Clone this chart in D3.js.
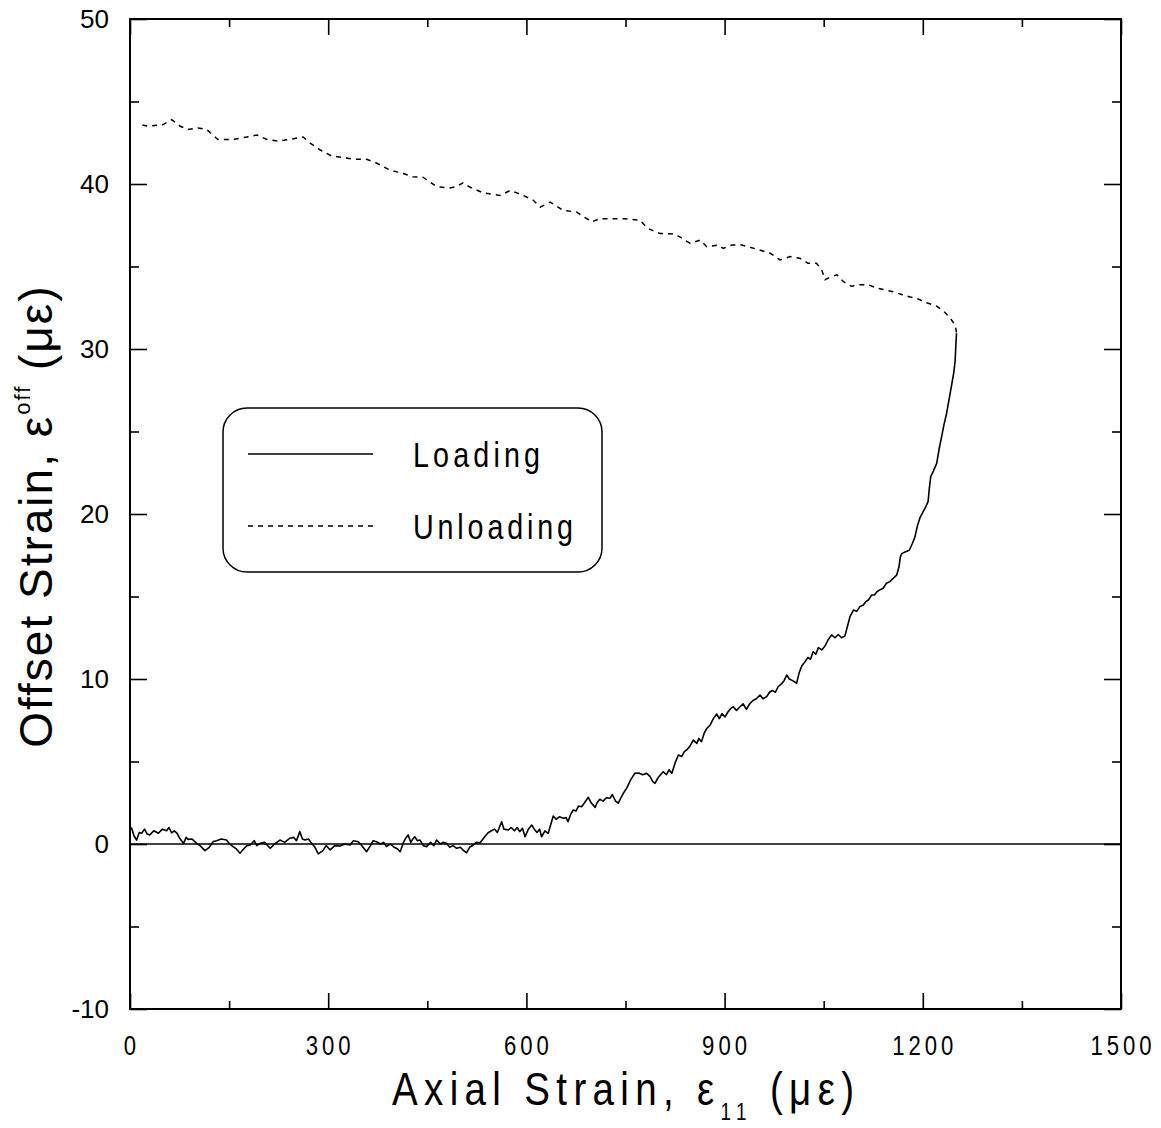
<!DOCTYPE html>
<html>
<head>
<meta charset="utf-8">
<script src="https://cdn.jsdelivr.net/npm/d3@7"></script>
<style>
  body { margin: 0; background: #fff; }
  svg text { font-family: "Liberation Sans", Arial, sans-serif; fill: #000; }
</style>
</head>
<body>
<div id="chart"></div>
<script>
// axis ticks
const xTicks = [0, 300, 600, 900, 1200, 1500];
const xMinorTicks = [150, 450, 750, 1050, 1350];
const yTicks = [-10, 0, 10, 20, 30, 40, 50];
const yMinorTicks = [-5, 5, 15, 25, 35, 45];

// loading branch [axial strain, offset strain]
const loadingPts = [
  [0,1.0],[2.5,0.95],[6,0.5],[10,0.24],[14,0.7],[17.7,0.65],[22,0.9],[26,0.6],[30,0.55],[36,0.8],
  [43,0.65],[49,0.9],[55.5,0.8],[59,1.0],[63,0.68],[67,0.8],[71,0.66],[76,0.3],[81,0.04],[85,0.4],
  [88,0.28],[94,0.3],[101,0.04],[106,-0.1],[113.5,-0.4],[120,-0.2],[126,0.15],[131,0.2],[138,0.3],[146,0.24],
  [151,0.0],[156,-0.16],[161,-0.3],[166.5,-0.56],[172,-0.3],[177,-0.1],[182,-0.06],[188,0.2],[192,-0.1],[197,0.04],
  [204,0.1],[212,-0.26],[219,0.0],[227,0.24],[234,0.1],[242,0.35],[248,0.4],[252,0.2],[257,0.75],[261,0.3],
  [265,0.24],[270,0.3],[275,0.04],[280,-0.2],[285,-0.6],[292,-0.4],[297,-0.1],[303,-0.36],[310,-0.1],[318,-0.12],
  [325,0.0],[333,-0.06],[338,0.2],[345.5,0.14],[351,-0.1],[358,-0.47],[364,-0.1],[368,0.2],[373,0.14],[379,0.0],
  [384,0.1],[388,-0.16],[394,0.0],[400,-0.2],[405,-0.3],[409,-0.47],[414,0.1],[418,0.4],[421,0.55],[425,0.1],
  [428,0.3],[431,0.44],[435,0.2],[439,0.24],[444,-0.1],[449,-0.16],[455,0.1],[460,-0.1],[464,0.24],[470,0.0],
  [474,0.1],[479,0.04],[484,-0.2],[489,-0.1],[494.5,-0.26],[500,-0.2],[505,-0.4],[509.6,-0.53],[514,-0.2],[519.6,-0.06],
  [524,0.1],[530,0.08],[536,0.4],[542,0.68],[547,0.8],[552,0.9],[556,0.7],[562.6,1.35],[566,0.9],[572.6,0.85],
  [577,1.0],[582,0.8],[586,1.0],[590,0.75],[594,0.95],[598,0.44],[603,0.9],[608,1.15],[612,0.9],[616,0.7],
  [620,0.9],[623,0.44],[628,0.8],[633,0.65],[637,1.2],[640.6,1.7],[645,1.5],[650,1.65],[656,1.56],[660,1.6],
  [663,1.35],[667,1.8],[671,2.06],[675,2.0],[679,2.3],[683.6,2.26],[688,2.5],[693.6,2.83],[698,2.5],[704,2.22],
  [707,2.5],[711,2.71],[716,2.6],[721,2.8],[726.5,2.77],[730,3.0],[735,2.6],[739,2.47],[743,2.8],[746.7,3.07],
  [752,3.4],[758,3.9],[764,4.28],[770,4.3],[776,4.2],[782,4.28],[787,4.1],[791,3.8],[794.6,3.68],[799,4.0],
  [803,4.2],[807,4.38],[812,4.2],[816,4.5],[820,4.28],[825,4.9],[830,5.39],[835,5.3],[839,5.6],[842.6,5.7],
  [847,5.9],[852.6,6.3],[858,6.1],[861,6.4],[865,6.2],[869,6.7],[873,7.0],[878,7.2],[883,7.6],[888,7.88],
  [892,7.6],[896,7.9],[900.6,7.7],[905,8.0],[909,8.2],[913,8.32],[918,8.1],[923,8.3],[928,8.5],[933,8.16],
  [938,8.5],[943,8.7],[948,8.8],[953.6,9.03],[958,8.8],[963.7,8.93],[968,9.2],[972,9.3],[977,9.2],[981,9.53],
  [986,9.7],[990,9.9],[994,10.24],[998,10.0],[1003,9.9],[1009,9.74],[1013,10.4],[1017,10.8],[1021.7,11.05],[1026,11.3],
  [1030,11.2],[1034,11.65],[1038,11.5],[1042,11.9],[1047,11.76],[1052,12.0],[1057,12.4],[1062,12.67],[1067,12.5],[1072,12.7],
  [1077,12.5],[1082,12.6],[1086,13.2],[1090,13.8],[1095,14.18],[1100,14.1],[1105,14.4],[1110,14.48],[1114,14.7],[1118,14.8],
  [1122.6,15.09],[1127,15.1],[1131,15.3],[1135,15.4],[1140,15.5],[1145,15.8],[1150,15.9],[1155,16.1],[1160.5,16.3],[1164,16.8],
  [1166,17.4],[1168,17.6],[1173,17.7],[1179.6,17.8],[1184,18.2],[1188,18.6],[1192,19.3],[1196,19.8],[1200,20.1],[1204,20.4],
  [1208,20.75],[1210,21.6],[1212,22.26],[1216,22.6],[1221,23.07],[1225,24.0],[1228.6,24.7],[1232,25.4],[1236,26.1],[1240,27.0],
  [1244,27.9],[1247,28.6],[1249,29.3],[1250,30.2],[1251,30.95]
];

// unloading branch
const unloadingPts = [
  [1251,31.0],[1249,31.45],[1241,31.9],[1234,32.2],[1221,32.6],[1206,32.8],[1193,33.03],[1181,33.15],[1168,33.3],[1155,33.47],
  [1130,33.7],[1117,33.9],[1105,33.9],[1092,33.8],[1080,34.08],[1070,34.5],[1062,34.4],[1052,34.2],[1047,34.8],[1039,35.2],
  [1026,35.2],[1014,35.5],[999,35.6],[984,35.4],[969,35.8],[948,36.06],[926,36.3],[911,36.3],[898,36.1],[890,36.3],
  [873,36.2],[863,36.6],[848,36.4],[825,36.97],[802,37.0],[784,37.3],[772,37.8],[749,37.9],[727,37.9],[711,37.9],
  [699,37.7],[676,38.3],[656,38.4],[636,38.9],[621,38.6],[610,39.03],[590,39.4],[575,39.6],[560,39.3],[534,39.47],
  [515,39.8],[504,40.07],[494,39.84],[484,39.76],[464,39.84],[444,40.4],[428,40.44],[411,40.67],[393,40.85],[373,41.27],
  [358,41.5],[341,41.5],[323,41.6],[305,41.7],[288,42.06],[272,42.5],[262,42.85],[242,42.7],[224,42.6],[207,42.7],
  [192,42.97],[177,42.85],[156,42.7],[133,42.7],[116,43.3],[103,43.4],[88,43.3],[76,43.5],[63,43.9],[50,43.6],
  [27,43.5],[12,43.64]
];

const legendItems = ["Loading", "Unloading"];

const width = 1161, height = 1128;
const margin = {top: 19, right: 40, bottom: 119, left: 130};
const plotW = width - margin.left - margin.right;   // 991
const plotH = height - margin.top - margin.bottom;  // 990
const squeeze = 0.82; // condensed look of the original lettering

const svg = d3.select("#chart").append("svg")
    .attr("width", width)
    .attr("height", height);

const g = svg.append("g").attr("transform", `translate(${margin.left},${margin.top})`);

const x = d3.scaleLinear().domain([0, 1500]).range([0, plotW]);
const y = d3.scaleLinear().domain([-10, 50]).range([plotH, 0]);

// ticks pointing inward on all four sides
function tickAxis(axisFn, scale, vals, size, tr) {
    const a = g.append("g").attr("transform", tr)
        .call(axisFn(scale).tickValues(vals).tickSize(size).tickFormat(""));
    a.select(".domain").remove();
    a.selectAll("line").attr("stroke", "#000").attr("stroke-width", 1.6);
    return a;
}
tickAxis(d3.axisTop, x, xTicks, 16, `translate(0,${plotH})`);
tickAxis(d3.axisTop, x, xMinorTicks, 8, `translate(0,${plotH})`);
tickAxis(d3.axisBottom, x, xTicks, 16, "translate(0,0)");
tickAxis(d3.axisBottom, x, xMinorTicks, 8, "translate(0,0)");
tickAxis(d3.axisRight, y, yTicks, 17, "translate(0,0)");
tickAxis(d3.axisRight, y, yMinorTicks, 9, "translate(0,0)");
tickAxis(d3.axisLeft, y, yTicks, 17, `translate(${plotW},0)`);
tickAxis(d3.axisLeft, y, yMinorTicks, 9, `translate(${plotW},0)`);

// frame
g.append("rect")
    .attr("width", plotW).attr("height", plotH)
    .attr("fill", "none").attr("stroke", "#000").attr("stroke-width", 2);

// tick labels
g.selectAll(".xlab").data(xTicks).enter().append("text")
    .attr("transform", d => `translate(${x(d)},${plotH + 46}) scale(${squeeze},1)`)
    .attr("text-anchor", "middle")
    .attr("font-size", 27)
    .attr("textLength", d => (String(d).length * 16 - 3) / squeeze)
    .attr("lengthAdjust", "spacing")
    .text(d => d);

g.selectAll(".ylab").data(yTicks).enter().append("text")
    .attr("x", -21)
    .attr("y", d => y(d) + 9)
    .attr("text-anchor", "end")
    .attr("font-size", 26)
    .text(d => d);

// zero line
g.append("line")
    .attr("x1", x(0)).attr("x2", x(1500))
    .attr("y1", y(0)).attr("y2", y(0))
    .attr("stroke", "#000").attr("stroke-width", 1.5);

const line = d3.line().x(d => x(d[0])).y(d => y(d[1]));

g.append("path").datum(loadingPts)
    .attr("d", line)
    .attr("fill", "none").attr("stroke", "#000").attr("stroke-width", 1.6)
    .attr("stroke-linejoin", "round");

g.append("path").datum(unloadingPts)
    .attr("d", line)
    .attr("fill", "none").attr("stroke", "#000").attr("stroke-width", 1.5)
    .attr("stroke-dasharray", "5,5");

// legend
const legendLen = [127, 160];
const lg = svg.append("g");
lg.append("rect")
    .attr("x", 223).attr("y", 408).attr("width", 379).attr("height", 164)
    .attr("rx", 24).attr("ry", 24)
    .attr("fill", "#fff").attr("stroke", "#000").attr("stroke-width", 1.5);
legendItems.forEach((name, i) => {
    const ly = 454 + i * 72;
    lg.append("line")
        .attr("x1", 248).attr("x2", 373).attr("y1", ly).attr("y2", ly)
        .attr("stroke", "#000").attr("stroke-width", 1.5)
        .attr("stroke-dasharray", i === 1 ? "5,5" : null);
    lg.append("text")
        .attr("transform", `translate(413,${ly + 13}) scale(${squeeze},1)`)
        .attr("font-size", 35)
        .attr("textLength", legendLen[i] / squeeze)
        .attr("lengthAdjust", "spacing")
        .text(name);
});

// axis titles
const xt = svg.append("text")
    .attr("transform", `translate(623,1105) scale(${squeeze},1)`)
    .attr("text-anchor", "middle")
    .attr("font-size", 47)
    .attr("textLength", 462 / squeeze)
    .attr("lengthAdjust", "spacing");
xt.append("tspan").text("Axial Strain, ε");
xt.append("tspan").attr("font-size", 23).attr("dy", 15).text("11");
xt.append("tspan").attr("dy", -15).text(" (με)");

const yt = svg.append("text")
    .attr("transform", "translate(52,516) rotate(-90)")
    .attr("text-anchor", "middle")
    .attr("font-size", 46)
    .style("letter-spacing", "2px");
yt.append("tspan").text("Offset Strain, ε");
yt.append("tspan").attr("font-size", 22).attr("dy", -22).text("off");
yt.append("tspan").attr("dy", 22).text(" (με)");
</script>
</body>
</html>
